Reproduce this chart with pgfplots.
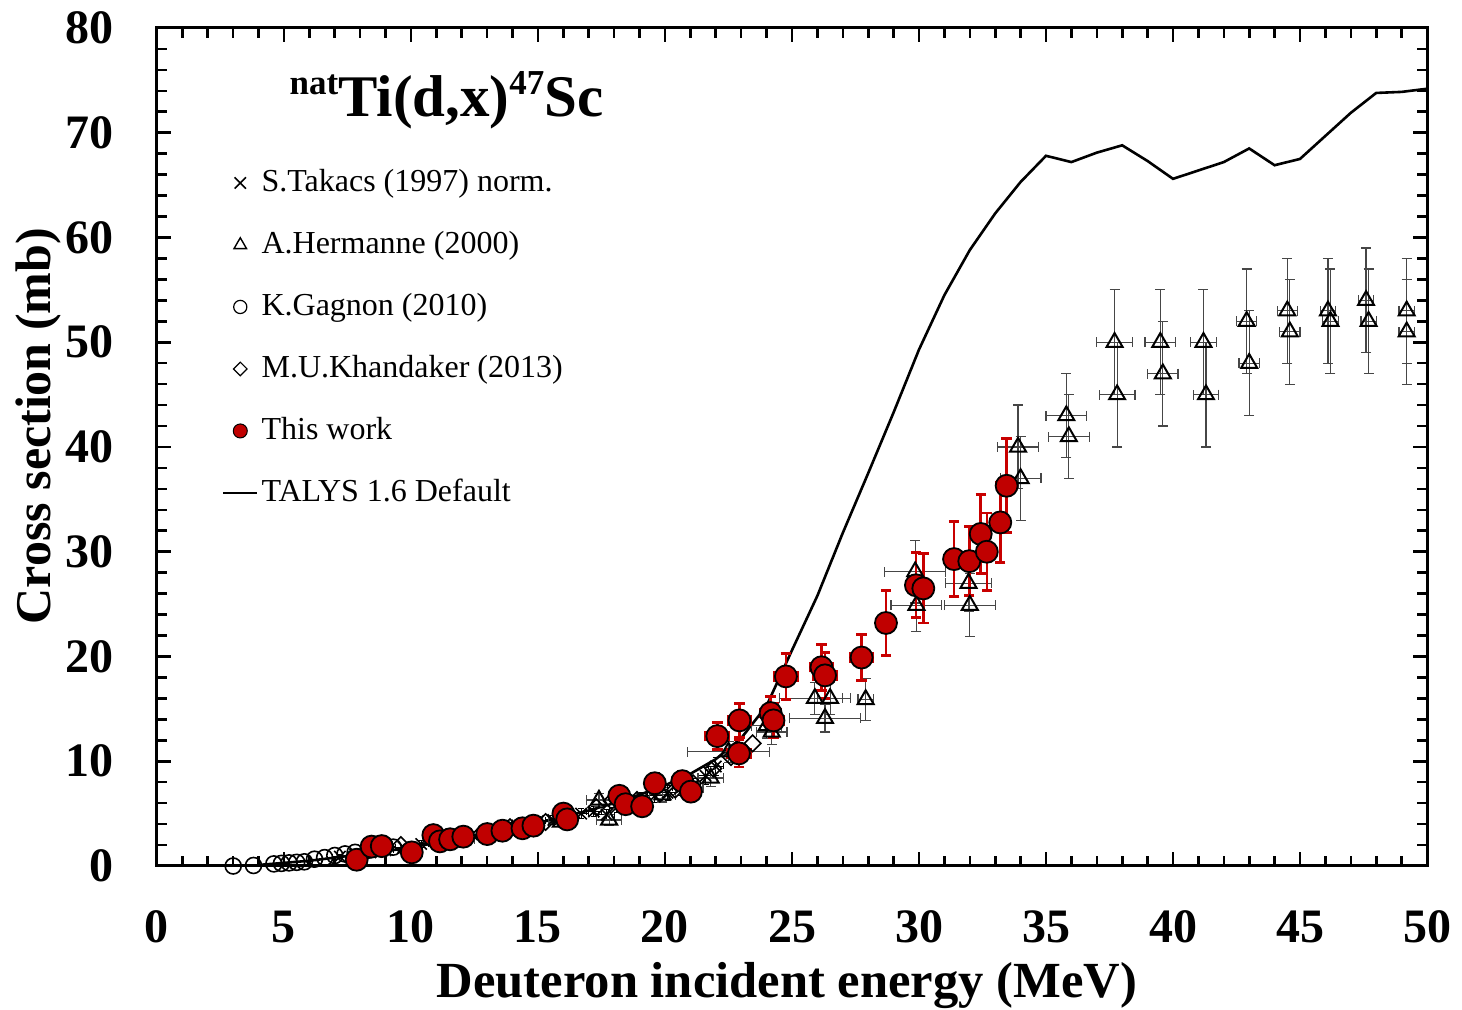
\documentclass[border=0pt]{standalone}
\usepackage{pgfplots}
\pgfplotsset{compat=1.18}
\usepackage{fontspec}
\setmainfont{Liberation Serif}
\definecolor{twfill}{RGB}{192,0,0}
\definecolor{twbar}{RGB}{200,0,0}
\definecolor{hbar}{RGB}{70,70,70}

\pgfplotstableread{
x y ex ey
7.86 0.6 0.3 0.3
8.45 1.85 0.3 0.4
8.85 1.9 0.3 0.4
10.03 1.3 0.3 0.3
10.88 2.95 0.3 0.4
11.14 2.35 0.3 0.4
11.54 2.55 0.3 0.4
12.06 2.8 0.3 0.4
13.0 3.05 0.3 0.4
13.6 3.37 0.3 0.4
14.39 3.6 0.3 0.4
14.82 3.85 0.3 0.4
16.0 5.0 0.3 0.5
16.15 4.45 0.3 0.5
18.2 6.7 0.3 0.6
18.45 5.9 0.3 0.6
19.1 5.7 0.3 0.6
19.6 7.9 0.3 0.9
20.68 8.1 0.3 0.9
21.02 7.1 0.3 0.8
22.06 12.4 0.45 1.3
22.93 13.9 0.45 1.6
22.91 10.75 0.45 1.3
24.16 14.6 0.4 1.6
24.27 13.9 0.4 1.6
24.76 18.1 0.45 2.2
26.16 18.97 0.45 2.2
26.3 18.2 0.45 2.2
27.74 19.9 0.45 2.2
28.7 23.2 0.3 3.1
29.88 26.8 0.3 3.1
30.17 26.5 0.3 3.3
31.38 29.3 0.3 3.6
31.98 29.1 0.3 3.3
32.43 31.7 0.3 3.8
32.67 30.0 0.3 3.7
33.2 32.8 0.3 3.8
33.45 36.3 0.3 4.5
}\thiswork

\pgfplotstableread{
x y ex ey
12.0 2.6 0.5 0.3
14.0 3.4 0.5 0.4
15.9 4.2 0.5 0.4
17.4 6.3 0.5 0.6
17.8 4.4 0.5 0.5
19.9 6.8 0.5 0.7
21.0 7.4 0.5 0.7
21.8 8.4 0.5 0.8
22.5 10.9 1.6 1.0
24.2 12.8 0.6 1.2
24.0 13.4 0.6 1.2
25.9 16.0 1.4 1.5
26.5 16.0 0.5 1.5
26.3 14.1 1.4 1.3
27.9 15.9 0.3 2.0
29.85 28.1 1.2 3.0
29.9 24.9 1.0 2.5
31.95 27.0 0.9 2.7
32.0 24.9 1.0 3.0
33.9 40.0 0.8 4.0
34.0 37.0 0.8 4.0
35.8 43.0 0.8 4.0
35.9 41.0 0.8 4.0
37.7 50.0 0.7 5.0
37.8 45.0 0.7 5.0
39.5 50.0 0.6 5.0
39.6 47.0 0.6 5.0
41.2 50.0 0.5 5.0
41.3 45.0 0.5 5.0
42.9 52.0 0.4 5.0
43.0 48.0 0.4 5.0
44.5 53.0 0.4 5.0
44.6 51.0 0.4 5.0
46.1 53.0 0.3 5.0
46.2 52.0 0.3 5.0
47.6 54.0 0.3 5.0
47.7 52.0 0.3 5.0
49.2 53.0 0.3 5.0
49.2 51.0 0.3 5.0
}\hermanne

\pgfplotstableread{
x y
3.0 0.0
3.8 0.05
4.6 0.2
4.9 0.25
5.2 0.3
5.5 0.35
5.8 0.4
6.2 0.65
6.6 0.8
7.0 1.0
7.4 1.15
7.8 1.3
8.3 1.5
8.8 1.65
9.3 1.8
}\gagnon

\pgfplotstableread{
x y
9.6 2.0
11.6 2.6
13.9 3.7
15.3 4.2
16.3 4.6
17.3 5.6
17.9 6.2
18.9 6.3
19.8 6.9
20.4 7.3
21.1 7.9
21.9 9.3
22.6 10.4
23.45 11.7
}\khandaker

\pgfplotstableread{
x y ex ey
7.2 0.9 0.3 0.2
7.8 1.1 0.3 0.2
8.4 1.3 0.3 0.2
9.0 1.5 0.3 0.2
9.7 1.8 0.3 0.2
10.4 2.1 0.3 0.3
11.0 2.4 0.3 0.3
11.7 2.7 0.3 0.3
12.4 3.0 0.3 0.3
13.1 3.3 0.3 0.3
13.8 3.6 0.3 0.4
14.4 4.0 0.3 0.4
15.0 4.3 0.3 0.4
15.6 4.4 0.3 0.4
16.2 4.8 0.3 0.5
16.7 5.0 0.3 0.5
17.2 5.2 0.3 0.5
17.7 4.9 0.3 0.5
18.1 5.6 0.3 0.5
18.6 6.0 0.3 0.6
19.1 6.4 0.3 0.6
19.6 6.7 0.3 0.6
20.1 7.0 0.3 0.7
20.6 7.4 0.3 0.7
21.1 7.7 0.3 0.7
21.6 8.6 0.3 0.8
22.0 9.5 0.3 0.9
}\takacs

\pgfplotstableread{
x y
4 0.1
5 0.3
6 0.5
7 0.8
8 1.1
9 1.4
10 1.8
11 2.2
12 2.6
13 3.1
14 3.6
15 4.1
16 4.7
17 5.3
18 6.0
19 6.8
20 7.7
21 8.8
22 10.2
23 12.2
24 15.3
25 20.6
26 25.8
27 31.8
28 37.5
29 43.3
30 49.3
31 54.5
32 58.8
33 62.3
34 65.3
35 67.8
36 67.2
37 68.1
38 68.8
39 67.3
40 65.6
41 66.4
42 67.2
43 68.5
44 66.9
45 67.5
46 69.7
47 71.9
48 73.8
49 73.9
50 74.2
}\talys

\begin{document}
\begin{tikzpicture}
\begin{axis}[
  at={(0,0)}, anchor=south west,
  scale only axis, width=635pt, height=419pt,
  xmin=0, xmax=50, ymin=0, ymax=80,
  xtick={0,5,...,50}, ytick={0,10,...,80},
  minor x tick num=4, minor y tick num=4,
  tick align=inside,
  major tick length=7pt, minor tick length=5pt,
  every tick/.style={black, line width=1.3pt},
  axis line style={line width=1.5pt},
  clip=false,
  /pgf/number format/assume math mode=true,
  ticklabel style={font=\fontsize{24}{24}\selectfont\bfseries},
  xticklabel style={yshift=-19pt},
  yticklabel style={xshift=-18pt},
  xlabel={Deuteron incident energy (MeV)},
  ylabel={Cross section (mb)},
  xlabel style={font=\fontsize{25.3}{26}\selectfont\bfseries, at={(axis description cs:0.496,-0.157)}, anchor=base},
  ylabel style={font=\fontsize{25}{26}\selectfont\bfseries, at={(axis description cs:-0.0835,0.525)}, anchor=base},
  legend style={at={(rel axis cs:0.0512,0.833)}, anchor=north west, draw=none, fill=none,
    inner sep=0pt, outer sep=0pt, row sep=16pt,
    font=\fontsize{16}{16}\selectfont,
    nodes={inner sep=0pt, text height=12pt, text depth=3pt},
    /tikz/every odd column/.append style={column sep=1.5pt}},
  legend cell align=left,
  legend image code/.code={\path (0cm,0cm) (0.6cm,0cm);\draw[mark repeat=2,mark phase=2,#1] plot coordinates {(0cm,0cm) (0.3cm,0cm) (0.6cm,0cm)};},
]
% TALYS curve (drawn first, behind data)
\addplot[black, line width=1.3pt, mark=none, forget plot] table[x=x,y=y] {\talys};

\addplot[only marks, mark=x, mark size=4pt, black, line width=0.8pt,
  error bars/.cd, x dir=both, x explicit, y dir=both, y explicit,
  error bar style={black, line width=0.5pt},
  error mark options={rotate=90, black, mark size=1.5pt, line width=0.5pt}]
  table[x=x,y=y,x error=ex,y error=ey] {\takacs};
\addlegendentry{S.Takacs (1997) norm.}

\addplot[only marks, mark=triangle, mark size=4.6pt, black, line width=1pt,
  mark options={fill=none},
  legend image post style={mark size=3.6pt, line width=0.7pt},
  error bars/.cd, x dir=both, x explicit, y dir=both, y explicit,
  error bar style={hbar, line width=0.6pt},
  error mark options={rotate=90, hbar, mark size=2.5pt, line width=0.6pt}]
  table[x=x,y=y,x error=ex,y error=ey] {\hermanne};
\addlegendentry{A.Hermanne (2000)}

\addplot[only marks, mark=o, mark size=4pt, black, line width=0.8pt,
  legend image post style={mark size=3.3pt, line width=0.6pt}]
  table[x=x,y=y] {\gagnon};
\addlegendentry{K.Gagnon (2010)}

\addplot[only marks, mark=square, mark options={rotate=45}, mark size=2.9pt, black, line width=0.8pt,
  legend image post style={mark size=2.4pt, line width=0.6pt}]
  table[x=x,y=y] {\khandaker};
\addlegendentry{M.U.Khandaker (2013)}

\addplot[only marks, mark=*, mark size=5.5pt, mark options={fill=twfill, draw=black, line width=0.9pt},
  legend image post style={mark size=3.5pt, mark options={fill=twfill, draw=black, line width=0.5pt}},
  error bars/.cd, x dir=both, x explicit, y dir=both, y explicit,
  error bar style={twbar, line width=1.3pt},
  error mark options={rotate=90, twbar, mark size=2.6pt, line width=1.4pt}]
  table[x=x,y=y,x error=ex,y error=ey] {\thiswork};
\addlegendentry{This work}

\addlegendimage{black, line width=1.2pt, mark=none}
\addlegendentry{TALYS 1.6 Default}

\node[anchor=base, font=\fontsize{29.5}{30}\selectfont\bfseries] at (rel axis cs:0.228,0.894)
  {\raisebox{11pt}{\fontsize{17.5}{18}\selectfont nat}Ti(d,x)\raisebox{11pt}{\fontsize{17.5}{18}\selectfont 47}Sc};
\end{axis}
\pgfresetboundingbox
\useasboundingbox (-78.5pt,-72pt) rectangle (652.5pt,433pt);
\end{tikzpicture}
\end{document}
